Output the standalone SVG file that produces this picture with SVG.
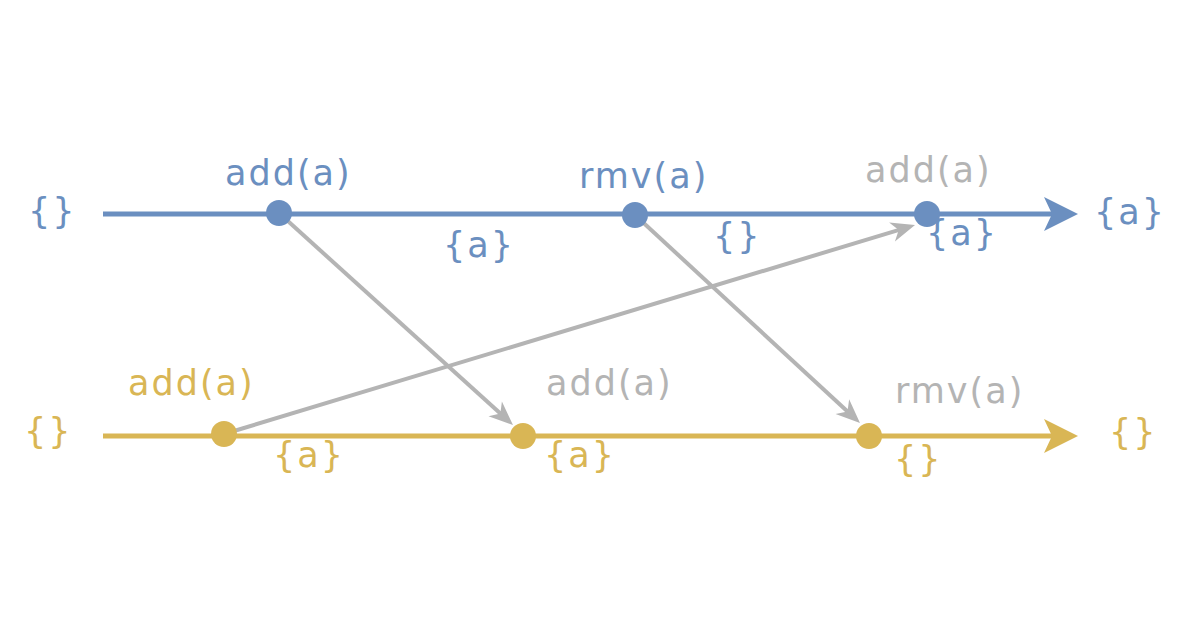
<svg xmlns="http://www.w3.org/2000/svg" width="1200" height="630" viewBox="0 0 1200 630">
  <defs>
    <style>
      text { font-family: "DejaVu Sans", Verdana, sans-serif; font-size: 35px; letter-spacing: 2px; }
      .blue { fill: #6b8fc0; }
      .gold { fill: #d9b655; }
      .grayt { fill: #b4b4b4; }
      .tl-blue { stroke: #6b8fc0; stroke-width: 5; fill: none; }
      .tl-gold { stroke: #d9b655; stroke-width: 5; fill: none; }
      .msg { stroke: #b4b4b4; stroke-width: 4; fill: none; }
    </style>
    <marker id="ah-blue" markerUnits="userSpaceOnUse" viewBox="-14 -18 38 36" refX="0" refY="0" markerWidth="38" markerHeight="36" orient="auto">
      <path d="M-12,-17 L22,0 L-12,17 L-4,0 Z" fill="#6b8fc0"/>
    </marker>
    <marker id="ah-gold" markerUnits="userSpaceOnUse" viewBox="-14 -18 38 36" refX="0" refY="0" markerWidth="38" markerHeight="36" orient="auto">
      <path d="M-12,-17 L22,0 L-12,17 L-4,0 Z" fill="#d9b655"/>
    </marker>
    <marker id="ah-gray" markerUnits="userSpaceOnUse" viewBox="-12 -12 30 24" refX="0" refY="0" markerWidth="30" markerHeight="24" orient="auto">
      <path d="M-10,-10 L14,0 L-10,10 L-3,0 Z" fill="#b4b4b4"/>
    </marker>
  </defs>

  <g id="timelines">
    <line class="tl-blue" x1="103" y1="214" x2="1056" y2="214" marker-end="url(#ah-blue)"/>
    <line class="tl-gold" x1="103" y1="436" x2="1056" y2="436" marker-end="url(#ah-gold)"/>
  </g>

  <g id="connectors">
    <line class="msg" x1="279" y1="213" x2="502.6" y2="415.6" marker-end="url(#ah-gray)"/>
    <line class="msg" x1="635" y1="215" x2="849.7" y2="413.5" marker-end="url(#ah-gray)"/>
    <line class="msg" x1="224" y1="434" x2="901.6" y2="229.1" marker-end="url(#ah-gray)"/>
  </g>

  <g id="blue-start"><text class="blue" x="28" y="223">{}</text></g>
  <g id="blue-add">
    <circle class="blue" cx="279" cy="213" r="13"/>
    <text class="blue" x="225" y="185">add(a)</text>
    <text class="blue" x="443" y="257">{a}</text>
  </g>
  <g id="blue-rmv">
    <circle class="blue" cx="635" cy="215" r="13"/>
    <text class="blue" x="579" y="188">rmv(a)</text>
    <text class="blue" x="713" y="248">{}</text>
  </g>
  <g id="blue-recv-add">
    <circle class="blue" cx="927" cy="214" r="13"/>
    <text class="grayt" x="865" y="182">add(a)</text>
    <text class="blue" x="926" y="245">{a}</text>
  </g>
  <g id="blue-end"><text class="blue" x="1094" y="224">{a}</text></g>

  <g id="gold-start"><text class="gold" x="24" y="443">{}</text></g>
  <g id="gold-add">
    <circle class="gold" cx="224" cy="434" r="13"/>
    <text class="gold" x="128" y="395">add(a)</text>
    <text class="gold" x="273" y="467">{a}</text>
  </g>
  <g id="gold-recv-add">
    <circle class="gold" cx="523" cy="436" r="13"/>
    <text class="grayt" x="546" y="395">add(a)</text>
    <text class="gold" x="544" y="467">{a}</text>
  </g>
  <g id="gold-recv-rmv">
    <circle class="gold" cx="869" cy="436" r="13"/>
    <text class="grayt" x="895" y="403">rmv(a)</text>
    <text class="gold" x="894" y="471">{}</text>
  </g>
  <g id="gold-end"><text class="gold" x="1109" y="444">{}</text></g>
</svg>
